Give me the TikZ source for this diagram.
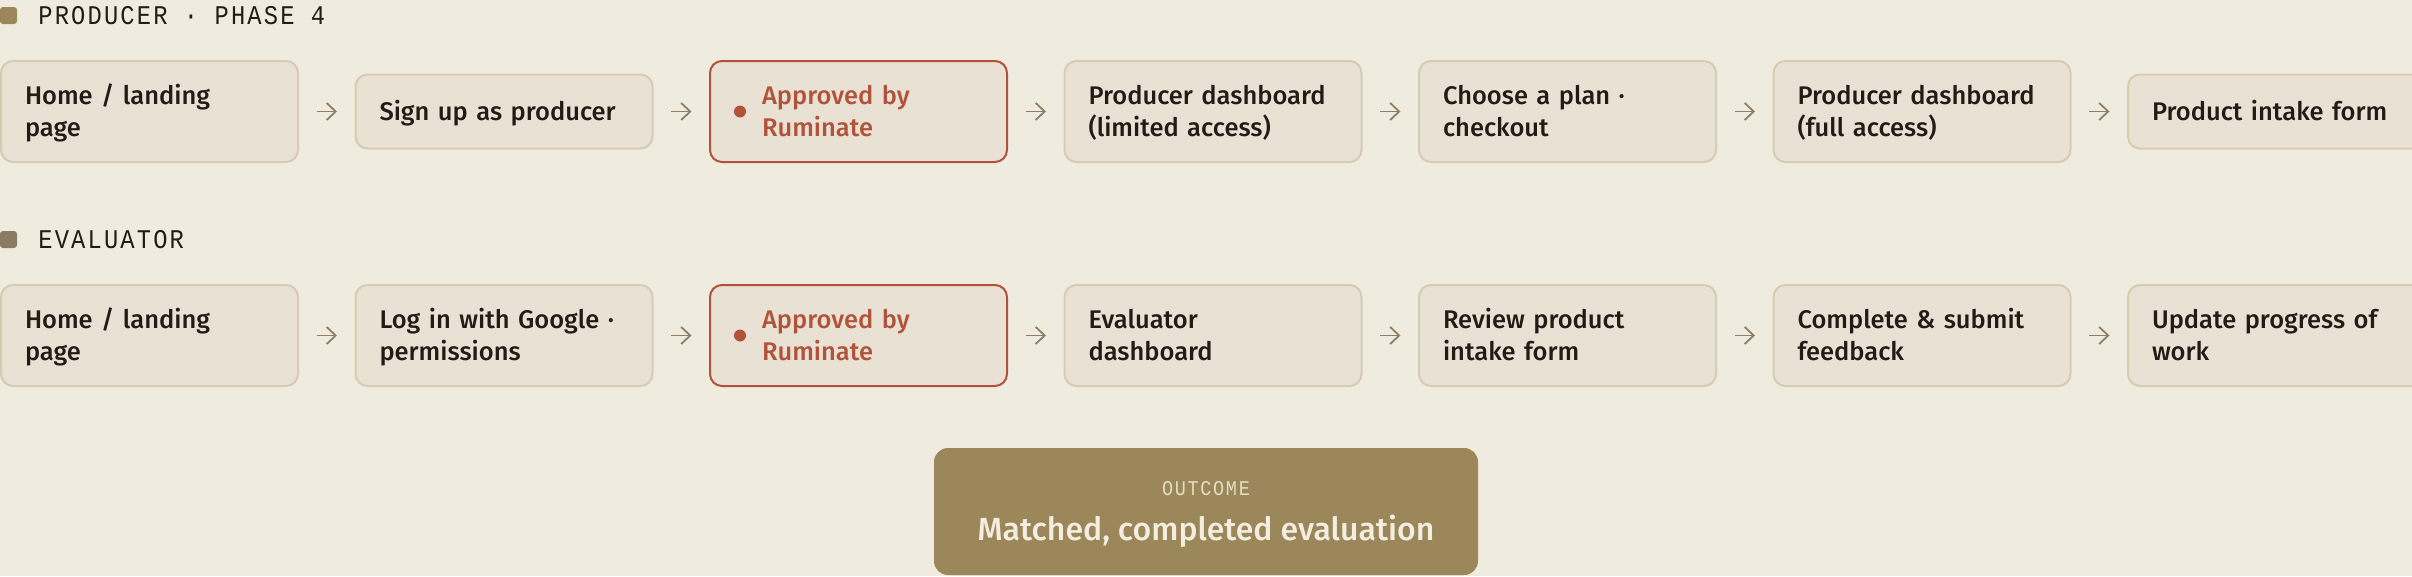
\documentclass[tikz,border=0pt]{standalone}
\usepackage{fontspec}
\setmainfont{Fira Sans}[UprightFont=* Medium]
\newfontfamily\lanemono{Liberation Mono}[FakeStretch=0.88, LetterSpace=8]
\usetikzlibrary{positioning, arrows.meta}

\definecolor{paper}{HTML}{F0EBDF}
\definecolor{cardfill}{HTML}{E9E2D4}
\definecolor{cardline}{HTML}{D6CCB4}
\definecolor{ink}{HTML}{211C16}
\definecolor{rust}{HTML}{B1523A}
\definecolor{olive}{HTML}{9B8759}
\definecolor{taupe}{HTML}{8A7C63}
\definecolor{arrowc}{HTML}{8E7F66}
\definecolor{cream}{HTML}{F4EEE2}
\definecolor{creamdim}{HTML}{E6DCC5}

\newcommand\lnstrut{\rule[-7pt]{0pt}{32pt}}

\begin{document}
\begin{tikzpicture}[
    x=1pt, y=-1pt,
    card/.style={draw=cardline, fill=cardfill, line width=2pt, rounded corners=12pt, text width=249pt, inner xsep=24pt, inner ysep=0pt, minimum height=101pt, align=left, text=ink, font=\fontsize{25.5}{32}\selectfont, execute at begin node=\lnstrut, execute at end node=\lnstrut},
    short/.style={minimum height=74pt},
    approved/.style={card, draw=rust, text=rust},
    dot/.style={circle, fill=rust, minimum size=12pt, inner sep=0pt},
    marker/.style={rounded corners=3pt, minimum size=17pt, inner sep=0pt},
    lane/.style={inner sep=0pt, text=ink, font=\lanemono\fontsize{27}{27}\selectfont},
    outcome/.style={fill=olive, rounded corners=14pt, minimum width=544pt, minimum height=127pt, align=center, text=cream, font=\fontsize{32}{45}\selectfont},
    flow/.style={-{Straight Barb[length=9pt, width=17pt]}, draw=arrowc, line width=1.8pt, shorten <=17.5pt, shorten >=17.5pt},
    node distance=55.5pt
]

\useasboundingbox (0,0) rectangle (2412,576);
\fill[paper] (0,0) rectangle (2412,576);

% Producer lane
\node[marker, fill=olive] (pmark) at (8.5,15.5) {};
\node[lane, right=21pt of pmark] (plane) {PRODUCER · PHASE 4};

\node[card, anchor=west] (phome) at (0,111.5) {Home / landing\\page};
\node[card, short, right=of phome] (psign) {Sign up as producer};
\node[approved, right=of psign] (pappr) {\hspace*{28pt}Approved by\\\hspace*{28pt}Ruminate};
\node[card, right=of pappr] (pdashl) {Producer dashboard\\(limited access)};
\node[card, right=of pdashl] (pplan) {Choose a plan ·\\checkout};
\node[card, right=of pplan] (pdashf) {Producer dashboard\\(full access)};
\node[card, short, right=of pdashf] (pintake) {Product intake form};
\node[dot] (pdot) at ([xshift=31pt]pappr.west) {};

% Evaluator lane
\node[marker, fill=taupe] (emark) at (8.5,239.5) {};
\node[lane, right=21pt of emark] (elane) {EVALUATOR};

\node[card, anchor=west] (ehome) at (0,335.5) {Home / landing\\page};
\node[card, right=of ehome] (elogin) {Log in with Google ·\\permissions};
\node[approved, right=of elogin] (eappr) {\hspace*{28pt}Approved by\\\hspace*{28pt}Ruminate};
\node[card, right=of eappr] (edash) {Evaluator\\dashboard};
\node[card, right=of edash] (ereview) {Review product\\intake form};
\node[card, right=of ereview] (efeed) {Complete \& submit\\feedback};
\node[card, right=of efeed] (eprog) {Update progress of\\work};
\node[dot] (edot) at ([xshift=31pt]eappr.west) {};

% Outcome
\node[outcome] (result) at (1206,511.5) {\rule{0pt}{20pt}{\lanemono\fontsize{21}{45}\selectfont\color{creamdim}OUTCOME}\\Matched, completed evaluation};

% Arrows
\draw[flow] (phome) -- (psign);
\draw[flow] (psign) -- (pappr);
\draw[flow] (pappr) -- (pdashl);
\draw[flow] (pdashl) -- (pplan);
\draw[flow] (pplan) -- (pdashf);
\draw[flow] (pdashf) -- (pintake);

\draw[flow] (ehome) -- (elogin);
\draw[flow] (elogin) -- (eappr);
\draw[flow] (eappr) -- (edash);
\draw[flow] (edash) -- (ereview);
\draw[flow] (ereview) -- (efeed);
\draw[flow] (efeed) -- (eprog);

\end{tikzpicture}
\end{document}
